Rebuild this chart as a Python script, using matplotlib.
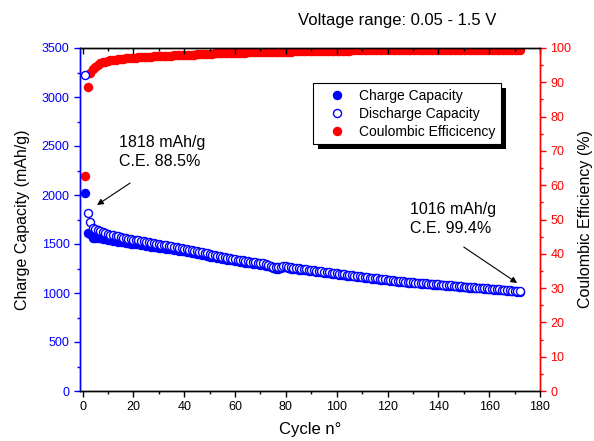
import matplotlib
matplotlib.use("Agg")
import matplotlib.pyplot as plt
from matplotlib.ticker import MultipleLocator
from matplotlib.patches import Rectangle
from matplotlib.transforms import IdentityTransform

plt.rcParams['font.family'] = ['Liberation Sans', 'DejaVu Sans']

discharge = [
    3220, 1818, 1724, 1668, 1652, 1641, 1632, 1622, 1610, 1602,
    1596, 1590, 1584, 1577, 1570, 1566, 1560, 1555, 1550, 1545,
    1540, 1536, 1531, 1526, 1520, 1516, 1512, 1507, 1503, 1498,
    1494, 1490, 1486, 1481, 1477, 1472, 1467, 1462, 1458, 1453,
    1448, 1443, 1438, 1433, 1427, 1422, 1417, 1411, 1404, 1396,
    1390, 1385, 1380, 1375, 1370, 1366, 1361, 1357, 1352, 1346,
    1341, 1336, 1332, 1328, 1324, 1320, 1317, 1313, 1310, 1306,
    1302, 1296, 1288, 1279, 1270, 1264, 1264, 1270, 1276, 1277,
    1270, 1263, 1258, 1255, 1252, 1248, 1245, 1242, 1238, 1235,
    1232, 1228, 1225, 1221, 1218, 1214, 1210, 1207, 1204, 1200,
    1197, 1194, 1190, 1187, 1184, 1180, 1177, 1174, 1170, 1167,
    1164, 1161, 1158, 1155, 1152, 1149, 1145, 1142, 1138, 1135,
    1132, 1130, 1127, 1124, 1122, 1119, 1116, 1114, 1111, 1108,
    1106, 1104, 1102, 1100, 1098, 1096, 1094, 1092, 1090, 1088,
    1086, 1084, 1082, 1080, 1078, 1076, 1074, 1071, 1069, 1066,
    1064, 1062, 1060, 1058, 1056, 1054, 1052, 1049, 1047, 1044,
    1042, 1040, 1038, 1036, 1034, 1032, 1030, 1028, 1025, 1022,
    1019, 1016,
]

charge = [
    2020, 1610, 1600, 1566, 1563, 1561, 1559, 1554, 1546, 1541,
    1539, 1534, 1530, 1525, 1520, 1517, 1513, 1508, 1505, 1502,
    1497, 1495, 1490, 1486, 1480, 1478, 1474, 1471, 1467, 1464,
    1460, 1456, 1453, 1448, 1445, 1441, 1436, 1431, 1429, 1424,
    1419, 1416, 1411, 1406, 1401, 1396, 1391, 1387, 1380, 1372,
    1366, 1363, 1358, 1353, 1348, 1346, 1341, 1337, 1332, 1327,
    1322, 1317, 1313, 1309, 1307, 1303, 1300, 1296, 1293, 1290,
    1286, 1280, 1271, 1264, 1256, 1250, 1249, 1255, 1262, 1263,
    1256, 1249, 1245, 1242, 1239, 1236, 1233, 1230, 1227, 1224,
    1221, 1217, 1214, 1210, 1207, 1203, 1200, 1197, 1194, 1190,
    1187, 1184, 1181, 1178, 1175, 1172, 1169, 1166, 1162, 1159,
    1156, 1153, 1150, 1147, 1144, 1141, 1137, 1134, 1131, 1128,
    1125, 1123, 1120, 1117, 1115, 1112, 1109, 1107, 1104, 1101,
    1099, 1097, 1095, 1093, 1091, 1089, 1087, 1085, 1083, 1081,
    1079, 1077, 1075, 1073, 1071, 1069, 1068, 1065, 1063, 1060,
    1058, 1056, 1054, 1052, 1050, 1048, 1046, 1043, 1041, 1038,
    1036, 1034, 1032, 1030, 1028, 1026, 1024, 1022, 1019, 1016,
    1013, 1010,
]

efficiency = [
    62.7, 88.5, 92.8, 93.9, 94.6, 95.1, 95.5, 95.8, 96.0, 96.2,
    96.4, 96.5, 96.6, 96.7, 96.8, 96.9, 97.0, 97.0, 97.1, 97.2,
    97.2, 97.3, 97.3, 97.4, 97.4, 97.5, 97.5, 97.6, 97.6, 97.7,
    97.7, 97.7, 97.8, 97.8, 97.8, 97.9, 97.9, 97.9, 98.0, 98.0,
    98.0, 98.1, 98.1, 98.1, 98.2, 98.2, 98.2, 98.3, 98.3, 98.3,
    98.3, 98.4, 98.4, 98.4, 98.4, 98.5, 98.5, 98.5, 98.5, 98.6,
    98.6, 98.6, 98.6, 98.6, 98.7, 98.7, 98.7, 98.7, 98.7, 98.8,
    98.8, 98.8, 98.7, 98.8, 98.9, 98.9, 98.8, 98.8, 98.9, 98.9,
    98.9, 98.9, 99.0, 99.0, 99.0, 99.0, 99.0, 99.0, 99.1, 99.1,
    99.1, 99.1, 99.1, 99.1, 99.1, 99.1, 99.2, 99.2, 99.2, 99.2,
    99.2, 99.2, 99.2, 99.2, 99.2, 99.3, 99.3, 99.3, 99.3, 99.3,
    99.3, 99.3, 99.3, 99.3, 99.3, 99.3, 99.3, 99.3, 99.4, 99.4,
    99.4, 99.4, 99.3, 99.4, 99.4, 99.4, 99.4, 99.5, 99.4, 99.4,
    99.4, 99.4, 99.4, 99.3, 99.4, 99.4, 99.4, 99.4, 99.5, 99.4,
    99.4, 99.4, 99.4, 99.4, 99.4, 99.4, 99.3, 99.4, 99.4, 99.4,
    99.4, 99.5, 99.4, 99.4, 99.4, 99.4, 99.4, 99.4, 99.4, 99.4,
    99.4, 99.4, 99.5, 99.4, 99.4, 99.4, 99.4, 99.4, 99.4, 99.4,
    99.3, 99.4,
]

cycles = list(range(1, len(discharge) + 1))

legend_labels = ['Charge Capacity', 'Discharge Capacity', 'Coulombic Efficicency']
note_first = '1818 mAh/g\nC.E. 88.5%'
note_last = '1016 mAh/g\nC.E. 99.4%'

blue = '#0000ff'
red = '#ff0000'

fig = plt.figure(figsize=(5.94, 4.41), dpi=100)
ax = fig.add_axes([80 / 594, 50 / 441, 460 / 594, 343 / 441])
ax2 = ax.twinx()

ms = 5.8
h1, = ax.plot(cycles, charge, 'o', color=blue, ms=ms, mec=blue, zorder=2,
              label=legend_labels[0])
h2, = ax.plot(cycles, discharge, 'o', mfc='white', mec=blue, mew=1.0, ms=ms,
              zorder=3, label=legend_labels[1])
h3, = ax2.plot(cycles, efficiency, 'o', color=red, ms=ms, label=legend_labels[2])

ax.set_xlim(-1, 180)
ax.set_ylim(0, 3500)
ax2.set_ylim(0, 100)

ax.xaxis.set_major_locator(MultipleLocator(20))
ax.xaxis.set_minor_locator(MultipleLocator(10))
ax.yaxis.set_major_locator(MultipleLocator(500))
ax.yaxis.set_minor_locator(MultipleLocator(250))
ax2.yaxis.set_major_locator(MultipleLocator(10))
ax2.yaxis.set_minor_locator(MultipleLocator(5))

fs_tick = 9
ax.tick_params(axis='x', which='both', direction='out', top=True, labelsize=fs_tick,
               colors='black', width=1)
ax.tick_params(axis='x', which='major', length=4)
ax.tick_params(axis='x', which='minor', length=2.5)
ax.tick_params(axis='y', which='both', direction='out', colors=blue, labelsize=fs_tick, width=1)
ax.tick_params(axis='y', which='major', length=4)
ax.tick_params(axis='y', which='minor', length=2.5)
ax2.tick_params(axis='y', which='both', direction='out', colors=red, labelsize=fs_tick, width=1)
ax2.tick_params(axis='y', which='major', length=4)
ax2.tick_params(axis='y', which='minor', length=2.5)
for t in ax.xaxis.get_major_ticks() + ax.xaxis.get_minor_ticks():
    t.tick2line.set_marker(3)

for a in (ax, ax2):
    a.spines['left'].set_color(blue)
    a.spines['right'].set_color(red)
    a.spines['top'].set_color('black')
    a.spines['bottom'].set_color('black')
    for s in a.spines.values():
        s.set_linewidth(1.0)

ax.set_xlabel('Cycle n°', fontsize=12, labelpad=6)
ax.set_ylabel('Charge Capacity (mAh/g)', fontsize=11.5, color='black', labelpad=8)
ax2.set_ylabel('Coulombic Efficiency (%)', fontsize=11.5, color='black', labelpad=5)

fig.text(397 / 594, 1 - 21 / 441, 'Voltage range: 0.05 - 1.5 V', ha='center', va='center',
         fontsize=12)

leg = ax.legend(handles=[h1, h2, h3], loc='upper left', bbox_to_anchor=(0.5065, 0.898),
                borderaxespad=0, fontsize=10, frameon=True, fancybox=False,
                handletextpad=0.3, labelspacing=0.3, borderpad=0.4, handlelength=2.6)
leg.get_frame().set_edgecolor('black')
leg.get_frame().set_linewidth(0.8)
leg.get_frame().set_alpha(1)
leg.set_zorder(10)

ax2.set_zorder(1)
ax.set_zorder(2)
ax.patch.set_visible(False)

ax.text(14.5, 2610, note_first, fontsize=11.5, ha='left', va='top', linespacing=1.35)
ax.annotate('', xy=(5.7, 1898), xytext=(18.7, 2122),
            arrowprops=dict(arrowstyle='-|>', color='black', lw=0.8,
                            shrinkA=0, shrinkB=0, mutation_scale=9))
ax.text(129, 1930, note_last, fontsize=11.5, ha='left', va='top', linespacing=1.35)
ax.annotate('', xy=(171, 1102), xytext=(150, 1469),
            arrowprops=dict(arrowstyle='-|>', color='black', lw=0.8,
                            shrinkA=0, shrinkB=0, mutation_scale=9))

fig.canvas.draw()
bb = leg.get_window_extent()
shadow = Rectangle((bb.x0 + 5, bb.y0 - 5), bb.width, bb.height, transform=IdentityTransform(),
                   facecolor='black', edgecolor='none', zorder=9)
ax.add_artist(shadow)

fig.savefig('out.png', dpi=100)
